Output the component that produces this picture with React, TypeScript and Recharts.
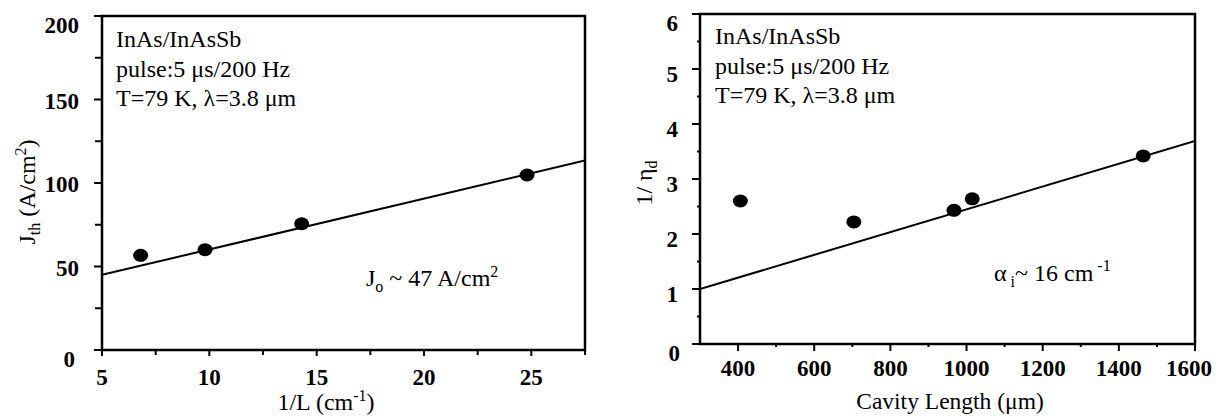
import React from 'react';
import { ComposedChart, XAxis, YAxis, Scatter, Line, ReferenceArea, Customized } from 'recharts';

const FONT = '"Liberation Serif", "Times New Roman", Times, serif';

// ---- Left panel: threshold current density vs inverse cavity length ----
const invLength = [6.8, 9.8, 14.3, 24.8];
const jth = [56.7, 60.1, 75.6, 104.8];
const fitInvLength = [5, 27.5];
const fitJth = [45, 113.5];
const leftXTicks = [5, 7.5, 10, 12.5, 15, 17.5, 20, 22.5, 25, 27.5];
const leftYTicks = [0, 25, 50, 75, 100, 125, 150, 175, 200];

// ---- Right panel: inverse differential efficiency vs cavity length ----
const cavityLength = [406, 704, 967, 1015, 1464];
const invEta = [2.6, 2.22, 2.43, 2.64, 3.42];
const fitCavity = [300, 1600];
const fitInvEta = [1.0, 3.69];
const rightXTicks = [400, 500, 600, 700, 800, 900, 1000, 1100, 1200, 1300, 1400, 1500, 1600];
const rightYTicks = [0, 0.5, 1, 1.5, 2, 2.5, 3, 3.5, 4, 4.5, 5, 5.5, 6];

const noteLines = ['InAs/InAsSb', 'pulse:5 \u03bcs/200 Hz', 'T=79 K, \u03bb=3.8 \u03bcm'];

const leftPoints = invLength.map((x, i) => ({ x, y: jth[i] }));
const leftFit = fitInvLength.map((x, i) => ({ x, y: fitJth[i] }));
const rightPoints = cavityLength.map((x, i) => ({ x, y: invEta[i] }));
const rightFit = fitCavity.map((x, i) => ({ x, y: fitInvEta[i] }));

const TICK_FS = 23;
const NOTE_FS = 24;
const TITLE_FS = 24;

const DotShape = (p: any) => <ellipse cx={p.cx} cy={p.cy} rx={7.5} ry={6.5} fill="#000" />;

const makeXTick = (
  isMajor: (v: number) => boolean,
  majorLen: number,
  minorLen: number,
  labelY: number,
  shift: (v: number) => number
) =>
  (props: any) => {
    const { x, y, payload } = props;
    const v = payload.value;
    const major = isMajor(v);
    return (
      <g>
        <line x1={x} x2={x} y1={y} y2={y + (major ? majorLen : minorLen)} stroke="#000" strokeWidth={2} />
        {major && (
          <text
            x={x + shift(v)}
            y={y + labelY}
            textAnchor="middle"
            style={{ fontFamily: FONT }}
            fontSize={TICK_FS}
            fontWeight="bold"
            fill="#000"
          >
            {v}
          </text>
        )}
      </g>
    );
  };

const makeYTick = (
  isMajor: (v: number) => boolean,
  majorLen: number,
  minorLen: number,
  gap: (v: number) => number,
  dy: (v: number) => number
) =>
  (props: any) => {
    const { x, y, payload } = props;
    const v = payload.value;
    const major = isMajor(v);
    return (
      <g>
        <line x1={x - (major ? majorLen : minorLen)} x2={x} y1={y} y2={y} stroke="#000" strokeWidth={2} />
        {major && (
          <text
            x={x - gap(v)}
            y={y + dy(v)}
            textAnchor="end"
            style={{ fontFamily: FONT }}
            fontSize={TICK_FS}
            fontWeight="bold"
            fill="#000"
          >
            {v}
          </text>
        )}
      </g>
    );
  };

const leftXTick = makeXTick((v) => v % 5 === 0, 6, 5, 35, () => 0);
const leftYTick = makeYTick((v) => v % 50 === 0, 8, 7, (v) => (v === 0 ? 27 : 23), (v) => (v === 0 || v === 200 ? 17 : 9));
const rightXTick = makeXTick((v) => v % 200 === 0, 7, 3, 32, (v) => (v === 1600 ? -6 : 0));
const rightYTick = makeYTick((v) => Number.isInteger(v), 8, 3, (v) => (v === 0 ? 20 : 22), (v) => (v === 0 || v === 6 ? 17 : 13));

const LeftNotes = () => (
  <g style={{ fontFamily: FONT }} fill="#000">
    {noteLines.map((t, i) => (
      <text key={t} x={116} y={47 + i * 29.5} fontSize={NOTE_FS}>
        {t}
      </text>
    ))}
    <text x={366} y={286} fontSize={NOTE_FS}>
      J<tspan dy={6} fontSize={16}>o</tspan>
      <tspan dy={-6}> ~ 47 A/cm</tspan>
      <tspan dy={-9} fontSize={16}>2</tspan>
    </text>
    <text x={326} y={410} fontSize={TITLE_FS} textAnchor="middle">
      1/L (cm<tspan dy={-9} fontSize={16}>-1</tspan>
      <tspan dy={9}>)</tspan>
    </text>
    <text transform="translate(35,192) rotate(-90)" fontSize={TITLE_FS} textAnchor="middle">
      J<tspan dy={5} fontSize={16}>th</tspan>
      <tspan dy={-5}> (A/cm</tspan>
      <tspan dy={-9} fontSize={16}>2</tspan>
      <tspan dy={9}>)</tspan>
    </text>
  </g>
);

const RightNotes = () => (
  <g style={{ fontFamily: FONT }} fill="#000">
    {noteLines.map((t, i) => (
      <text key={t} x={115} y={44 + i * 29.5} fontSize={NOTE_FS}>
        {t}
      </text>
    ))}
    <text x={394} y={281} fontSize={NOTE_FS}>
      {'\u03b1'}
      <tspan dy={6} fontSize={16}> i</tspan>
      <tspan dy={-6}>~ 16 cm</tspan>
      <tspan dy={-10} fontSize={16}> -1</tspan>
    </text>
    <text x={350} y={409} fontSize={23.5} textAnchor="middle">
      Cavity Length ({'\u03bc'}m)
    </text>
    <text transform="translate(52,183) rotate(-90)" fontSize={TITLE_FS} textAnchor="middle">
      1/ {'\u03b7'}<tspan dy={5} fontSize={16}>d</tspan>
    </text>
  </g>
);

export default function App() {
  return (
    <div style={{ position: 'absolute', left: 0, top: 0, width: 1217, height: 419, background: '#fff' }}>
      <div style={{ position: 'absolute', left: 0, top: 0 }}>
        <ComposedChart width={600} height={419} margin={{ top: 16, right: 15, bottom: 0, left: 0 }}>
          <XAxis
            type="number"
            dataKey="x"
            domain={[5, 27.5]}
            ticks={leftXTicks}
            interval={0}
            height={69}
            axisLine={false}
            tickLine={false}
            tickSize={0}
            tickMargin={0}
            tick={leftXTick}
            allowDataOverflow
          />
          <YAxis
            type="number"
            dataKey="y"
            domain={[0, 200]}
            ticks={leftYTicks}
            interval={0}
            width={102}
            axisLine={false}
            tickLine={false}
            tickSize={0}
            tickMargin={0}
            tick={leftYTick}
            allowDataOverflow
          />
          <ReferenceArea x1={5} x2={27.5} y1={0} y2={200} fill="none" fillOpacity={0} stroke="#000" strokeWidth={2.5} />
          <Line data={leftFit} dataKey="y" stroke="#000" strokeWidth={2} dot={false} isAnimationActive={false} />
          <Scatter data={leftPoints} dataKey="y" shape={DotShape} isAnimationActive={false} />
          <Customized component={<LeftNotes />} />
        </ComposedChart>
      </div>
      <div style={{ position: 'absolute', left: 600, top: 0 }}>
        <ComposedChart width={617} height={419} margin={{ top: 14, right: 22, bottom: 0, left: 0 }}>
          <XAxis
            type="number"
            dataKey="x"
            domain={[300, 1600]}
            ticks={rightXTicks}
            interval={0}
            height={75}
            axisLine={false}
            tickLine={false}
            tickSize={0}
            tickMargin={0}
            tick={rightXTick}
            allowDataOverflow
          />
          <YAxis
            type="number"
            dataKey="y"
            domain={[0, 6]}
            ticks={rightYTicks}
            interval={0}
            width={100}
            axisLine={false}
            tickLine={false}
            tickSize={0}
            tickMargin={0}
            tick={rightYTick}
            allowDataOverflow
          />
          <ReferenceArea x1={300} x2={1600} y1={0} y2={6} fill="none" fillOpacity={0} stroke="#000" strokeWidth={2.5} />
          <Line data={rightFit} dataKey="y" stroke="#000" strokeWidth={2} dot={false} isAnimationActive={false} />
          <Scatter data={rightPoints} dataKey="y" shape={DotShape} isAnimationActive={false} />
          <Customized component={<RightNotes />} />
        </ComposedChart>
      </div>
    </div>
  );
}
